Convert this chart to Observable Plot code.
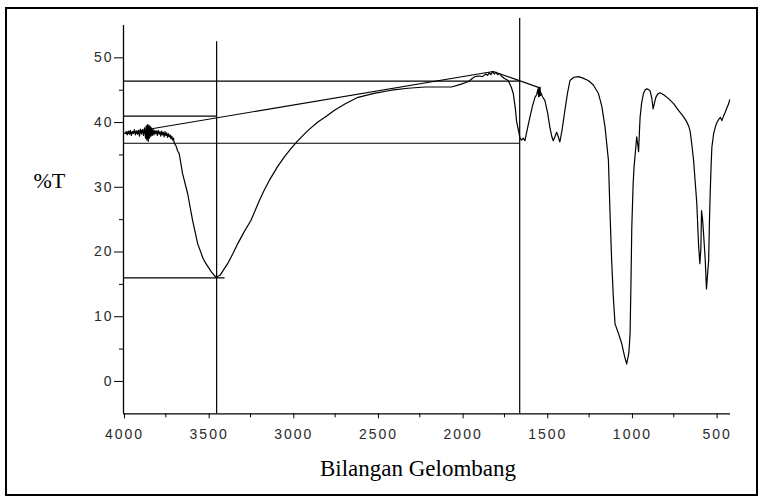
<!DOCTYPE html>
<html><head><meta charset="utf-8">
<script src="https://cdn.jsdelivr.net/npm/d3@7"></script>
<script src="https://cdn.jsdelivr.net/npm/@observablehq/plot@0.6"></script>
<style>
body{margin:0;background:#fff;}
#wrap{position:relative;width:763px;height:501px;overflow:hidden;}
#frame{position:absolute;left:5px;top:7px;width:749px;height:485px;border:2px solid #000;pointer-events:none;}
g[aria-label="x-axis tick label"] text, g[aria-label="y-axis tick label"] text{letter-spacing:2px;fill:#2a2a2a;}
</style></head>
<body><div id="wrap"><div id="frame"></div></div>
<script>
// IR spectrum
const wavenumber = [3990,3984,3978,3972,3966,3960,3954,3948,3942,3936,3930,3924,3918,3912,3906,3900,3894,3888,3882,3876,3870,3866,3862,3858,3854,3850,3846,3842,3838,3834,3830,3825,3820,3815,3810,3805,3800,3795,3790,3785,3780,3775,3770,3765,3760,3755,3750,3745,3740,3735,3730,3725,3720,3715,3710,3705,3700,3690,3680,3671,3651,3621,3592,3562,3530,3513,3480,3454,3430,3410,3385,3355,3325,3290,3247,3200,3170,3138,3090,3050,3010,2970,2910,2852,2800,2754,2690,2615,2520,2418,2320,2221,2140,2063,2010,1965,1940,1925,1900,1880,1860,1850,1840,1830,1820,1810,1800,1790,1780,1768,1750,1728,1710,1698,1685,1679,1669,1658,1649,1640,1629,1615,1600,1585,1570,1560,1552,1548,1545,1542,1540,1537,1535,1525,1511,1495,1482,1470,1462,1455,1442,1432,1423,1410,1393,1378,1363,1340,1314,1290,1255,1225,1195,1175,1156,1136,1127,1117,1107,1097,1075,1057,1040,1028,1015,1008,1003,998,990,985,975,969,962,958,953,949,940,929,918,909,898,890,880,872,866,856,845,831,810,781,750,722,695,673,660,653,643,633,624,614,604,596,590,586,580,574,564,557,552,544,540,535,530,525,515,505,495,482,474,466,456,446,436,426,420];
const transmittance = [38.3,38.6,38.1,38.7,38.2,38.8,38.0,38.6,38.3,38.9,38.1,38.7,38.2,38.8,37.9,39.0,38.2,38.9,38.0,39.2,37.6,39.5,37.3,39.7,37.1,39.6,37.6,39.4,37.9,39.2,38.0,38.9,38.1,38.8,38.3,38.7,38.0,38.8,38.2,38.6,37.9,38.7,38.1,38.5,37.8,38.6,38.0,38.4,37.7,38.3,37.8,38.1,37.5,37.9,37.3,37.6,36.8,36.4,35.6,35.2,32.1,29.0,24.9,21.3,19.0,18.2,16.9,16.1,16.4,17.2,18.2,19.7,21.3,23.0,24.9,27.8,29.5,31.1,33.2,34.7,36.0,37.2,38.8,40.1,41.0,41.9,42.9,43.9,44.5,45.0,45.3,45.5,45.5,45.5,45.9,46.3,46.8,47.1,47.2,47.1,47.5,47.3,47.7,47.4,47.9,47.5,47.8,47.4,47.6,47.2,46.8,46.5,45.5,44.5,42.0,40.3,39.0,37.6,37.3,37.6,37.2,39.0,40.8,42.5,43.9,44.3,45.2,44.0,45.4,44.1,45.5,44.2,44.6,44.0,43.4,41.5,39.3,37.8,37.2,37.6,38.5,37.8,37.0,38.8,41.9,44.5,46.5,47.0,47.1,46.9,46.5,45.8,44.5,42.5,39.3,34.2,26.4,18.7,13.0,8.9,7.3,5.8,3.8,2.7,4.5,7.4,15.0,23.8,30.5,33.0,36.0,37.8,36.5,35.5,38.5,40.8,43.0,44.5,45.1,45.2,45.1,44.9,43.8,42.1,42.8,43.9,44.4,44.6,44.3,43.7,42.9,41.9,41.0,40.1,39.3,38.6,36.5,34.2,31.0,27.5,21.3,18.2,20.5,26.4,25.0,22.8,18.7,14.3,16.0,18.7,24.0,29.0,33.0,36.2,38.2,39.3,40.0,40.6,40.8,40.3,41.0,41.6,42.3,42.9,43.5];

// construction lines
const hLineY  = [46.4, 41, 36.8, 16];
const hLineX1 = [4000, 4000, 4000, 4000];
const hLineX2 = [1660, 3450, 1660, 3400];
const vLineX  = [3450, 1660];
const vLineBottom = [-5, -5];
const vLineTop = [52.5, 56.1];
const baselineX = [4000, 1817, 1545];
const baselineY = [38.3, 47.9, 45.4];

// axes
const xMajor = [4000,3500,3000,2500,2000,1500,1000,500];
const xMinor = [3750,3250,2750,2250,1750,1250,750];
const yMajor = [0,10,20,30,40,50];
const yMinor = [5,15,25,35,45];
const xDomain = [4000, 415];
const yDomain = [-5, 55];
const yLabel = "%T";
const xLabel = "Bilangan Gelombang";

const serif = "'Liberation Serif','Times New Roman',serif";

const chart = Plot.plot({
  width: 763, height: 501,
  marginLeft: 123, marginRight: 33, marginTop: 25, marginBottom: 87.7,
  style: {fontFamily: "'Liberation Sans',Arial,sans-serif", fontSize: "14px", background: "transparent", color: "#000"},
  x: {domain: xDomain, label: null},
  y: {domain: yDomain, label: null},
  marks: [
    Plot.axisX({ticks: xMajor, tickSize: 5, tickPadding: 10, fontSize: 14, dx: 1, label: null, tickFormat: d => String(d)}),
    Plot.axisX({ticks: xMinor, tickSize: 4, text: null, label: null}),
    Plot.axisY({ticks: yMajor, tickSize: 9, tickPadding: 1, fontSize: 14, label: null}),
    Plot.axisY({ticks: yMinor, tickSize: 4, text: null, label: null}),
    Plot.ruleX([xDomain[0]], {y1: yDomain[0], y2: yDomain[1], stroke: "#000", strokeWidth: 1.3}),
    Plot.ruleY([yDomain[0]], {x1: xDomain[0], x2: xDomain[1], stroke: "#000", strokeWidth: 1.3}),
    Plot.ruleY(hLineY, {y: hLineY, x1: hLineX1, x2: hLineX2, stroke: "#000", strokeWidth: 1.1}),
    Plot.ruleX(vLineX, {x: vLineX, y1: vLineBottom, y2: vLineTop, stroke: "#000", strokeWidth: 1.2}),
    Plot.line(baselineX, {x: baselineX, y: baselineY, stroke: "#000", strokeWidth: 1.1}),
    Plot.line(wavenumber, {x: wavenumber, y: transmittance, stroke: "#000", strokeWidth: 1.2, curve: "linear"}),
    Plot.text([yLabel], {text: d => d, frameAnchor: "top-left", textAnchor: "start", lineAnchor: "bottom", dx: -90, dy: 162, fontSize: 22, fontFamily: serif, fill: "#000"}),
    Plot.text([xLabel], {text: d => d, frameAnchor: "bottom", textAnchor: "middle", lineAnchor: "bottom", dx: -9, dy: 61.7, fontSize: 23, fontFamily: serif, fill: "#000"})
  ]
});
document.getElementById("wrap").prepend(chart);
</script>
</body></html>
